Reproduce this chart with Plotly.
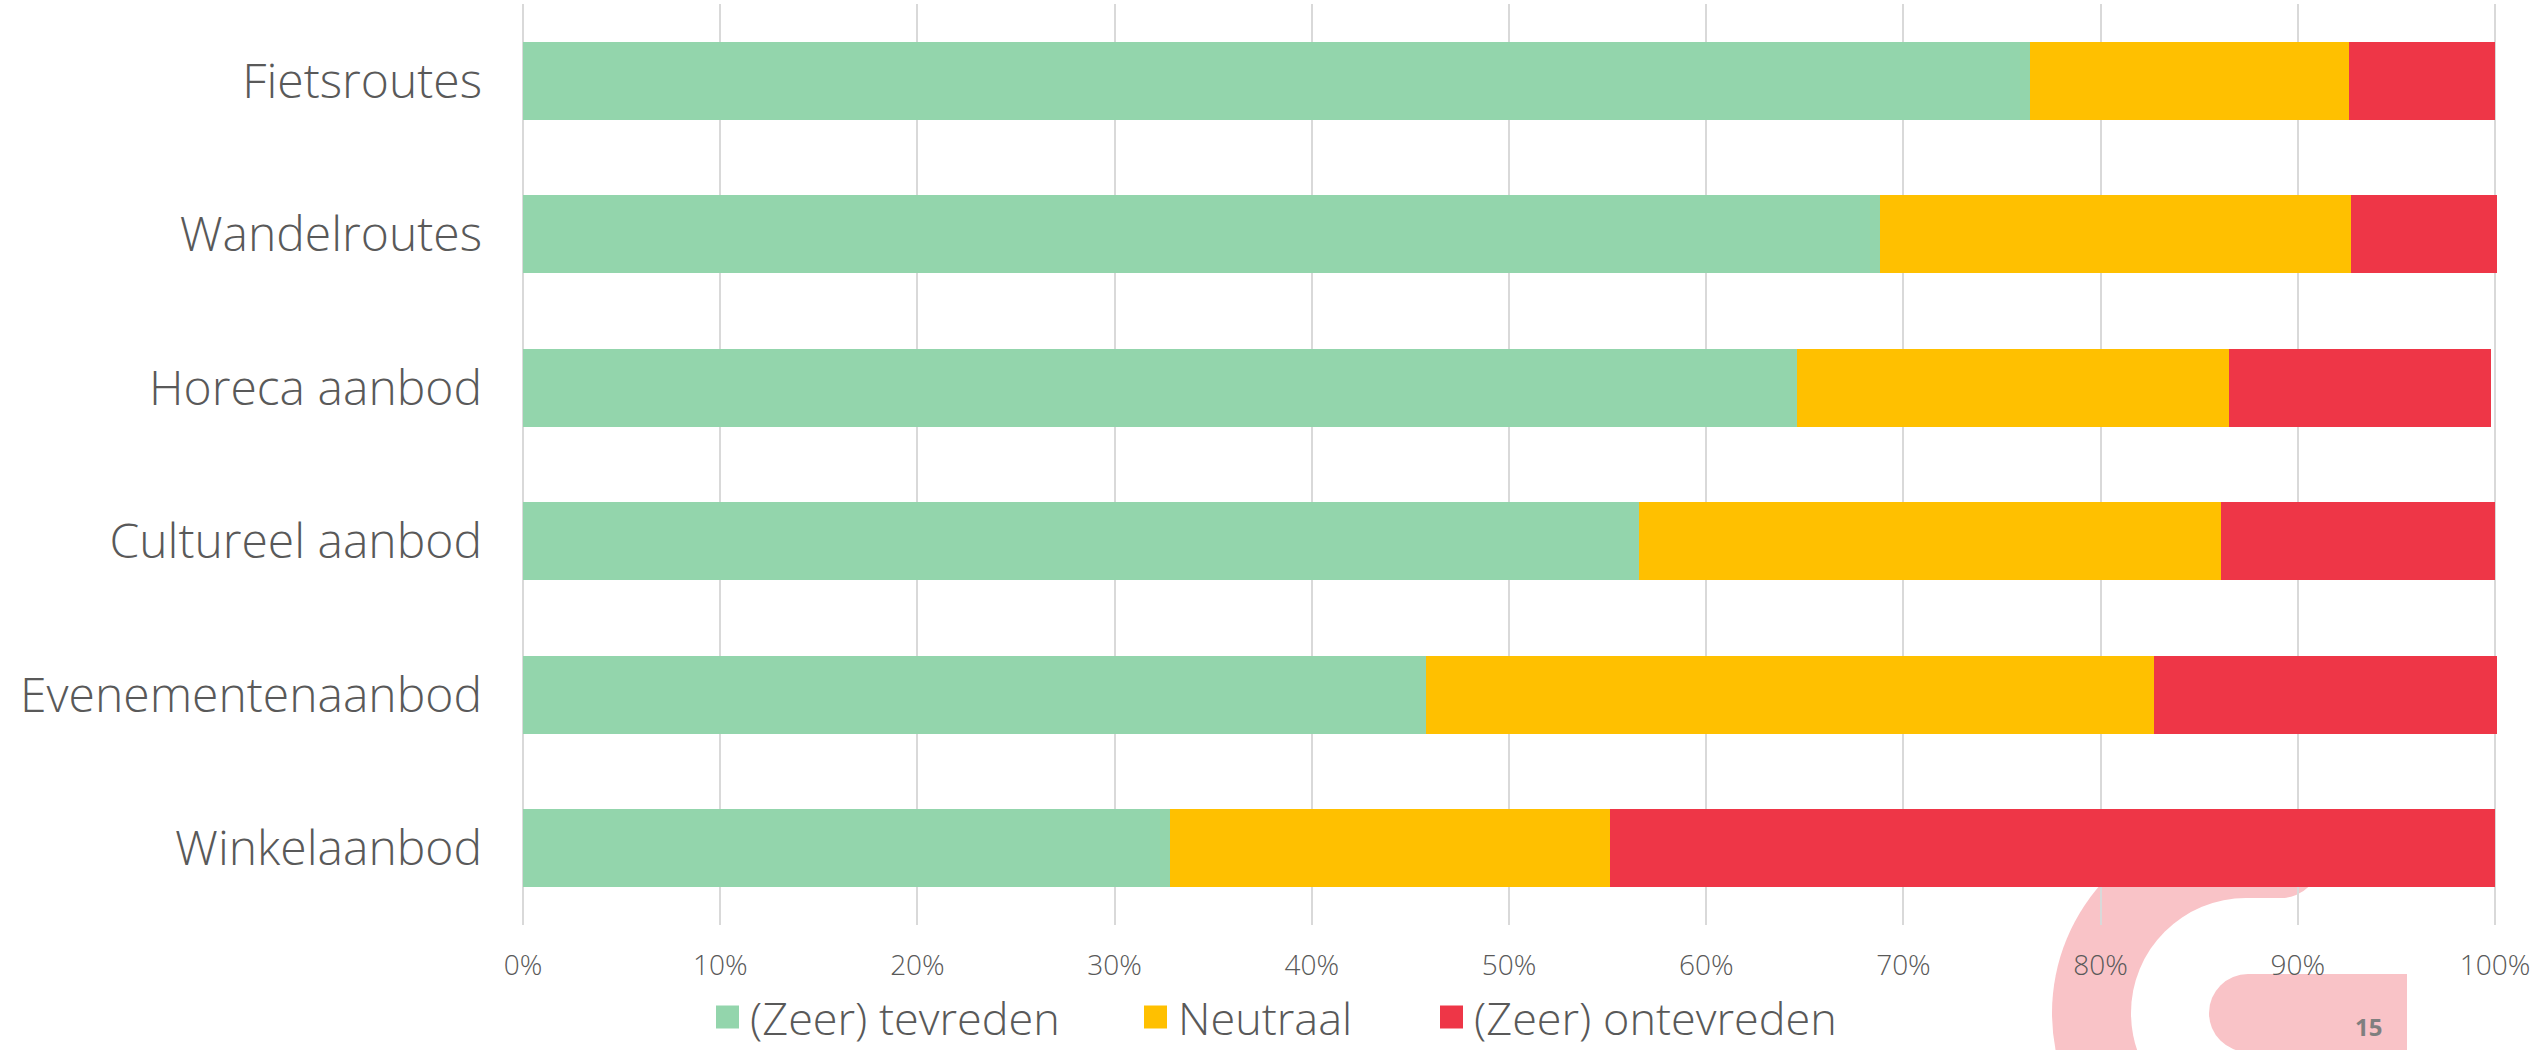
import plotly.graph_objects as go

categories = ["Fietsroutes", "Wandelroutes", "Horeca aanbod", "Cultureel aanbod",
              "Evenementenaanbod", "Winkelaanbod"]
series_names = ["(Zeer) tevreden", "Neutraal", "(Zeer) ontevreden"]
tevreden = [76.4, 68.8, 64.6, 56.6, 45.8, 32.8]
neutraal = [16.2, 23.9, 21.9, 29.5, 36.9, 22.3]
ontevreden = [7.4, 7.4, 13.3, 13.9, 17.4, 44.9]
tick_values = [0, 10, 20, 30, 40, 50, 60, 70, 80, 90, 100]
tick_labels = ["0%", "10%", "20%", "30%", "40%", "50%", "60%", "70%", "80%", "90%", "100%"]
page_number = "15"

colors = ["#93D5AC", "#FFC000", "#EE3647"]
pink = "#F9C3C7"
text_color = "#595959"
FONT = "Open Sans"

W, H = 2542, 1050
L, T, B = 523, 4, 925
R_px = 2499
PW, PH = R_px - L, B - T


def px(x):
    return (x - L) / PW


def py(y):
    return (B - y) / PH


fig = go.Figure()
for name, vals, col in zip(series_names, [tevreden, neutraal, ontevreden], colors):
    fig.add_trace(go.Bar(
        x=vals, y=categories, orientation="h", name=name,
        marker=dict(color=col, line=dict(width=0)), showlegend=False,
        hoverinfo="x+y+name",
    ))

shapes = []


def circ(cx, cy, r, color):
    shapes.append(dict(type="circle", xref="paper", yref="paper", layer="below",
                       x0=px(cx - r), x1=px(cx + r), y0=py(cy + r), y1=py(cy - r),
                       fillcolor=color, line=dict(width=0)))


def rect(x0, y0, x1, y1, color, layer="below"):
    shapes.append(dict(type="rect", xref="paper", yref="paper", layer=layer,
                       x0=px(x0), x1=px(x1), y0=py(y1), y1=py(y0),
                       fillcolor=color, line=dict(width=0)))


# decorative background logo (slide)
circ(2246, 1013, 194, pink)
rect(2246, 790, 2600, 1120, "white")
circ(2246, 1013, 115, "white")
rect(2246, 819, 2281, 898, pink)
circ(2281, 858.5, 39.5, pink)
circ(2248, 1013, 39, pink)
rect(2248, 974, 2407, 1052, pink)

annotations = [dict(text="<b>" + page_number + "</b>", xref="paper", yref="paper",
                    x=px(2368), y=py(1026), showarrow=False, xanchor="center", yanchor="middle",
                    font=dict(family=FONT, size=24, color="#7F7F7F"))]

# manual legend
legend_sq_x = [716, 1144, 1440]
legend_y = 1017
for name, col, sx in zip(series_names, colors, legend_sq_x):
    rect(sx, legend_y - 11.5, sx + 23, legend_y + 11.5, col, layer="above")
    annotations.append(dict(text=name, xref="paper", yref="paper", x=px(sx + 32), y=py(legend_y),
                            showarrow=False, xanchor="left", yanchor="middle",
                            font=dict(family=FONT, size=45, color=text_color, weight=300)))

fig.update_layout(
    width=W, height=H,
    margin=dict(l=L, r=W - R_px, t=T, b=H - B, pad=0),
    barmode="stack", bargap=0.49,
    paper_bgcolor="white", plot_bgcolor="rgba(0,0,0,0)",
    shapes=shapes, annotations=annotations,
    font=dict(family=FONT, color=text_color),
    xaxis=dict(range=[0, 100.2], tickvals=tick_values, ticktext=tick_labels,
               showgrid=True, gridcolor="#D9D9D9", gridwidth=1.5,
               zeroline=True, zerolinecolor="#D9D9D9", zerolinewidth=1.5,
               showline=False, ticks="", ticklabelstandoff=21,
               tickfont=dict(family=FONT, size=28, color=text_color, weight=300)),
    yaxis=dict(categoryorder="array", categoryarray=categories, range=[5.5, -0.5],
               showgrid=False, zeroline=False, showline=False, ticks="",
               ticklabelstandoff=40,
               tickfont=dict(family=FONT, size=48, color=text_color, weight=300)),
)

fig.write_html("out.html", config={"displayModeBar": False},
               post_script="document.body.style.margin='0';document.body.style.overflow='hidden';")
